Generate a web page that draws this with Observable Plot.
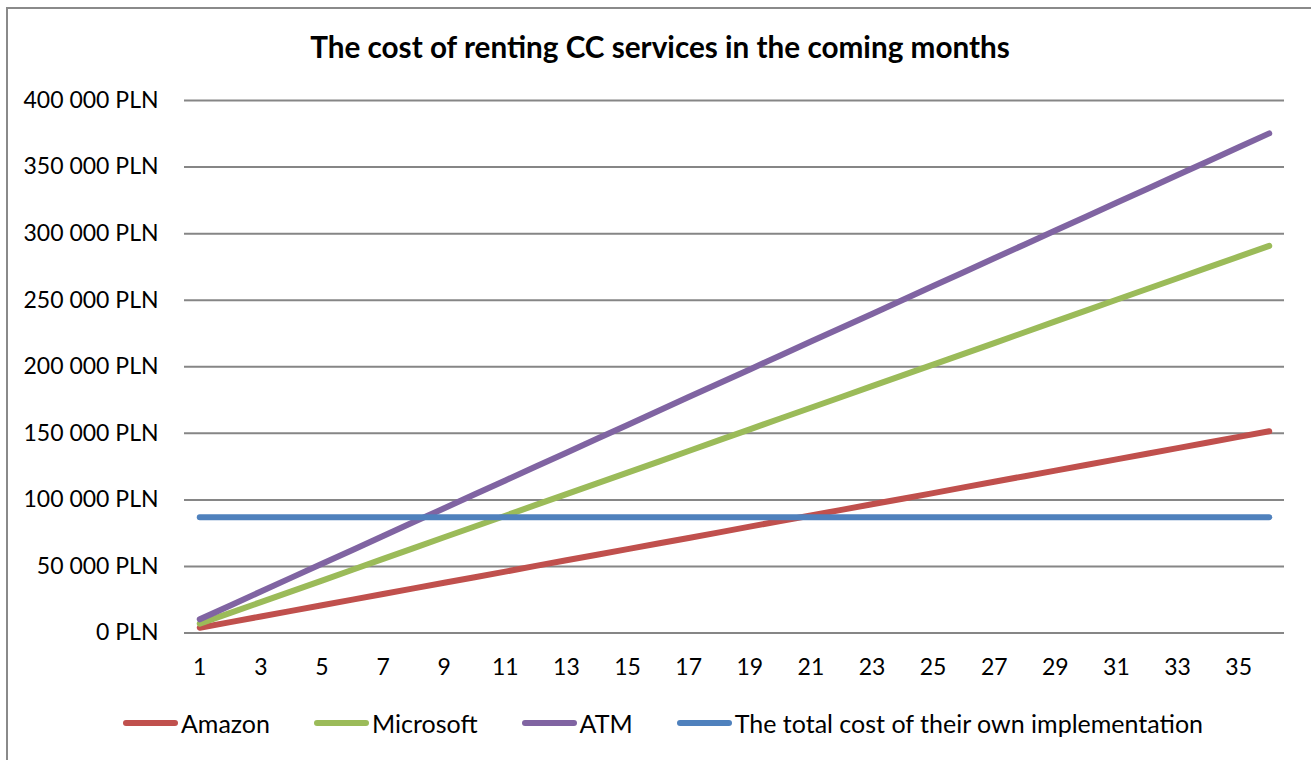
<!DOCTYPE html>
<html>
<head>
<meta charset="utf-8">
<script src="https://cdn.jsdelivr.net/npm/d3@7"></script>
<script src="https://cdn.jsdelivr.net/npm/@observablehq/plot@0.6"></script>
<style>
  html, body { margin: 0; padding: 0; background: #fff; overflow: hidden; }
  body { width: 1311px; height: 760px; position: relative; font-family: Lato, "Open Sans", sans-serif; }
  #frame { position: absolute; left: 6px; top: 7px; width: 1320px; height: 770px; border: 2px solid #8a8a8a; box-sizing: border-box; }
  #title { position: absolute; left: 0; top: 30px; width: 1320px; text-align: center; font-weight: 700; font-size: 29.7px; line-height: 34px; color: #000; }
  #chart { position: absolute; left: 0; top: 75px; }
  #legend { position: absolute; left: 15px; top: 708px; width: 1296px; display: flex; justify-content: center; align-items: center; font-size: 25px; line-height: 30px; color: #000; }
  .item { display: flex; align-items: center; margin: 0 22px; }
  .sw { width: 55px; height: 6px; border-radius: 3px; margin-right: 3px; }
</style>
</head>
<body>
<div id="frame"></div>
<div id="title">The cost of renting CC services in the coming months</div>
<div id="chart"></div>
<div id="legend"></div>
<script>
const months = [1,2,3,4,5,6,7,8,9,10,11,12,13,14,15,16,17,18,19,20,21,22,23,24,25,26,27,28,29,30,31,32,33,34,35,36];
const amazon = [4000,8200,12400,16600,20900,25100,29300,33500,37700,41900,46100,50400,54600,58800,63000,67200,71400,75600,79900,84100,88300,92500,96700,100900,105100,109400,113600,117800,122000,126200,130400,134600,138900,143100,147300,151500];
const microsoft = [7000,15100,23200,31300,39400,47500,55700,63800,71900,80000,88100,96200,104300,112400,120500,128600,136700,144900,153000,161100,169200,177300,185400,193500,201600,209700,217800,225900,234100,242200,250300,258400,266500,274600,282700,290800];
const atm = [10300,20700,31200,41600,52000,62400,72900,83300,93700,104200,114600,125000,135400,145900,156300,166700,177200,187600,198000,208500,218900,229300,239700,250200,260600,271000,281500,291900,302300,312700,323200,333600,344000,354400,364900,375300];
const ownCost = [87000,87000,87000,87000,87000,87000,87000,87000,87000,87000,87000,87000,87000,87000,87000,87000,87000,87000,87000,87000,87000,87000,87000,87000,87000,87000,87000,87000,87000,87000,87000,87000,87000,87000,87000,87000];
const seriesNames = ["Amazon", "Microsoft", "ATM", "The total cost of their own implementation"];
const seriesColors = ["#C0504D", "#9BBB59", "#8064A2", "#4F81BD"];
const xTicks = [1,3,5,7,9,11,13,15,17,19,21,23,25,27,29,31,33,35];
const yTicks = [0,50000,100000,150000,200000,250000,300000,350000,400000];

const seriesValues = [amazon, microsoft, atm, ownCost];
const data = seriesNames.flatMap((name, i) => months.map((m, j) => ({series: name, month: m, value: seriesValues[i][j]})));

const fmt = d => d3.format(",")(d).replace(/,/g, " ") + " PLN";

const chart = Plot.plot({
  width: 1311,
  height: 605,
  marginTop: 25,
  marginBottom: 47.5,
  marginLeft: 184,
  marginRight: 27,
  style: { fontFamily: "Lato, 'Open Sans', sans-serif", fontSize: "23px", color: "#000", background: "transparent" },
  x: { domain: [0.5, 36.5], ticks: xTicks, tickSize: 0, tickPadding: 26, tickFormat: d => String(d), label: null },
  y: { domain: [0, 400000], ticks: yTicks, tickSize: 0, tickPadding: 26, tickFormat: fmt, label: null },
  color: { domain: seriesNames, range: seriesColors },
  marks: [
    Plot.ruleY(yTicks, { stroke: "#868686", strokeWidth: 2 }),
    Plot.axisX({ ticks: xTicks, tickSize: 0, tickPadding: 26, tickFormat: d => String(d), label: null, fontSize: 23 }),
    Plot.axisY({ ticks: yTicks, tickSize: 0, tickPadding: 26, tickFormat: fmt, label: null, fontSize: 23 }),
    Plot.line(data, { x: "month", y: "value", z: "series", stroke: "series", strokeWidth: 6, strokeLinecap: "round", strokeLinejoin: "round" })
  ]
});
document.getElementById("chart").appendChild(chart);

const legend = document.getElementById("legend");
seriesNames.forEach((name, i) => {
  const item = document.createElement("div");
  item.className = "item";
  const sw = document.createElement("div");
  sw.className = "sw";
  sw.style.background = seriesColors[i];
  const t = document.createElement("span");
  t.textContent = name;
  item.appendChild(sw);
  item.appendChild(t);
  legend.appendChild(item);
});
</script>
</body>
</html>
